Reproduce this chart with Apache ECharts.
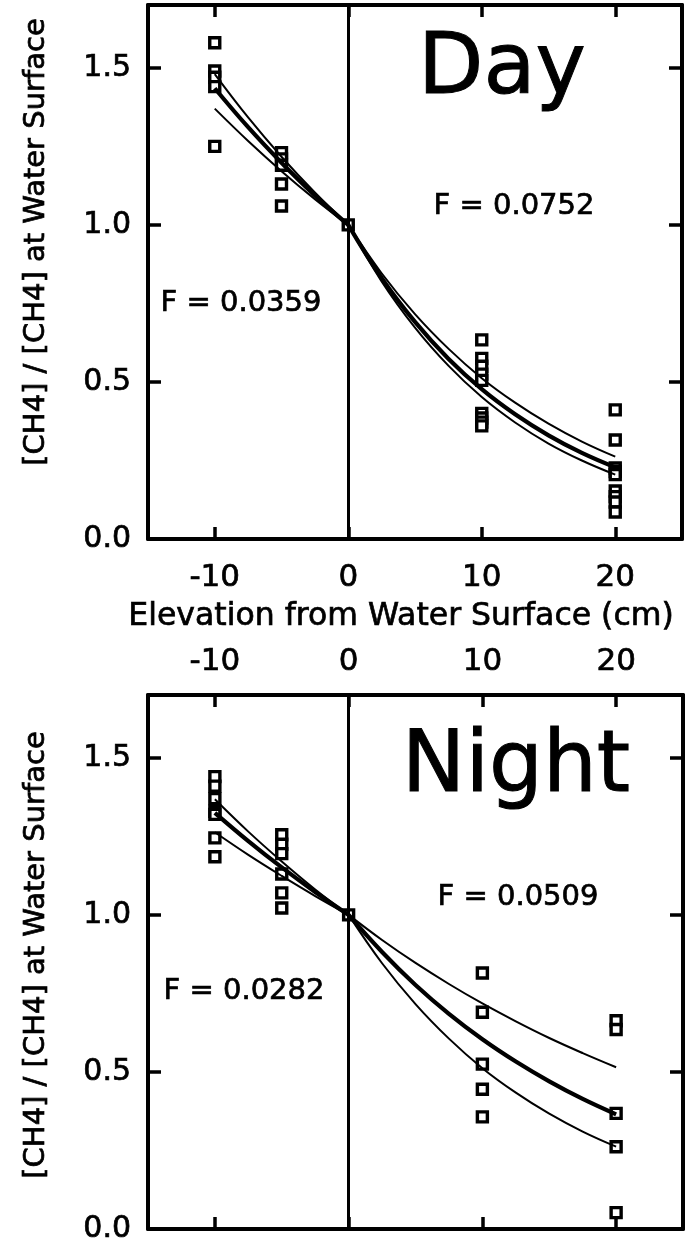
<!DOCTYPE html>
<html>
<head>
<meta charset="utf-8">
<script src="https://cdn.jsdelivr.net/npm/echarts@6/dist/echarts.min.js"></script>
<style>
  html, body { margin: 0; padding: 0; background: #fff; }
  #main { width: 691px; height: 1245px; }
</style>
</head>
<body>
<div id="main"></div>
<script>
// axis ticks
var xTicks = [-10, 0, 10, 20];
var yTicks = [0, 0.5, 1.0, 1.5];

// Day measurements, by elevation (cm)
var dayM10 = [1.58, 1.49, 1.47, 1.44, 1.25];
var dayM5 = [1.23, 1.21, 1.19, 1.13, 1.06];
var day0 = [1.0];
var day10 = [0.634, 0.575, 0.55, 0.525, 0.505, 0.40, 0.385, 0.372, 0.36];
var day20 = [0.411, 0.315, 0.226, 0.215, 0.205, 0.153, 0.135, 0.118, 0.086];

// Night measurements
var nightM10 = [1.44, 1.41, 1.37, 1.33, 1.32, 1.245, 1.185];
var nightM5 = [1.255, 1.225, 1.195, 1.13, 1.07, 1.022];
var night0 = [1.0];
var night10 = [0.815, 0.69, 0.525, 0.445, 0.357];
var night20 = [0.663, 0.635, 0.368, 0.262, 0.052];

// fitted curves (fit, upper, lower)
var fitXLeft = [-10, -7.5, -5, -2.5, 0];
var fitXRight = [0, 2.5, 5, 7.5, 10, 12.5, 15, 17.5, 20];

var dayFitL = [1.435, 1.311, 1.198, 1.094, 1.0];
var dayUpL  = [1.48, 1.342, 1.217, 1.103, 1.0];
var dayLoL  = [1.37, 1.267, 1.171, 1.082, 1.0];
var dayFitR = [1.0, 0.831, 0.691, 0.574, 0.477, 0.397, 0.330, 0.274, 0.228];
var dayUpR  = [1.0, 0.846, 0.716, 0.606, 0.512, 0.434, 0.367, 0.310, 0.262];
var dayLoR  = [1.0, 0.820, 0.673, 0.552, 0.452, 0.371, 0.304, 0.250, 0.205];

var nightFitL = [1.325, 1.235, 1.151, 1.073, 1.0];
var nightUpL  = [1.368, 1.265, 1.170, 1.081, 1.0];
var nightLoL  = [1.263, 1.191, 1.124, 1.060, 1.0];
var nightFitR = [1.0, 0.882, 0.777, 0.685, 0.604, 0.533, 0.470, 0.414, 0.365];
var nightUpR  = [1.0, 0.920, 0.847, 0.780, 0.718, 0.661, 0.608, 0.560, 0.515];
var nightLoR  = [1.0, 0.846, 0.716, 0.606, 0.512, 0.434, 0.367, 0.310, 0.262];

var FONT = 'DejaVu Sans';
var INK = 0.7; // slight stroke so text looks as heavy as the print

function pts(x, arr) {
  return arr.map(function (v) { return [x, v]; });
}
function zip(xs, ys) {
  return xs.map(function (x, i) { return [x, ys[i]]; });
}

function xAx(grid, pos, showLabel, margin) {
  return {
    type: 'value', gridIndex: grid, position: pos, min: -15, max: 25,
    axisLine: { show: true, onZero: false, lineStyle: { color: '#000', width: 4 } },
    axisTick: { show: true, inside: true, length: 12, customValues: xTicks,
      lineStyle: { color: '#000', width: 3.5 } },
    axisLabel: { show: showLabel, customValues: xTicks, margin: margin || 8,
      color: '#000', fontSize: 31, fontFamily: FONT,
      textBorderColor: '#000', textBorderWidth: INK },
    splitLine: { show: false }
  };
}
function yAx(grid, pos, showLabel, name, shift) {
  return {
    type: 'value', gridIndex: grid, position: pos, min: 0, max: 1.7,
    name: name || '', nameLocation: 'middle', nameGap: 97,
    nameTextStyle: { color: '#000', fontSize: 29, fontFamily: FONT,
      textBorderColor: '#000', textBorderWidth: INK,
      padding: [0, 0, 0, shift || 0] },
    axisLine: { show: true, onZero: false, lineStyle: { color: '#000', width: 4 } },
    axisTick: { show: true, inside: true, length: 13, customValues: yTicks,
      lineStyle: { color: '#000', width: 3.5 } },
    axisLabel: { show: showLabel, customValues: yTicks, margin: 17,
      color: '#000', fontSize: 30, fontFamily: FONT,
      textBorderColor: '#000', textBorderWidth: INK,
      formatter: function (v) { return v.toFixed(1); } },
    splitLine: { show: false }
  };
}

function panelSeries(idx, obs, curves) {
  var list = [{
    type: 'scatter', xAxisIndex: idx, yAxisIndex: idx,
    symbol: 'rect', symbolSize: 10,
    itemStyle: { color: '#fff', borderColor: '#000', borderWidth: 3.4, opacity: 1 },
    data: obs, z: 2
  }];
  curves.forEach(function (c) {
    list.push({
      type: 'line', xAxisIndex: idx, yAxisIndex: idx, smooth: 0.4,
      showSymbol: false, data: c.data, z: 3,
      lineStyle: { color: '#000', width: c.w }
    });
  });
  // vertical line at the water surface
  list.push({
    type: 'line', xAxisIndex: idx, yAxisIndex: idx, data: [], z: 4,
    markLine: { silent: true, symbol: 'none', label: { show: false },
      lineStyle: { color: '#000', width: 3, type: 'solid' },
      data: [{ xAxis: 0 }] }
  });
  return list;
}

var dayObs = [].concat(pts(-10, dayM10), pts(-5, dayM5), pts(0, day0), pts(10, day10), pts(20, day20));
var nightObs = [].concat(pts(-10, nightM10), pts(-5, nightM5), pts(0, night0), pts(10, night10), pts(20, night20));

var THIN = 2, THICK = 4.2;
var dayCurves = [
  { data: zip(fitXLeft, dayUpL), w: THIN }, { data: zip(fitXLeft, dayLoL), w: THIN },
  { data: zip(fitXLeft, dayFitL), w: THICK },
  { data: zip(fitXRight, dayUpR), w: THIN }, { data: zip(fitXRight, dayLoR), w: THIN },
  { data: zip(fitXRight, dayFitR), w: THICK }
];
var nightCurves = [
  { data: zip(fitXLeft, nightUpL), w: THIN }, { data: zip(fitXLeft, nightLoL), w: THIN },
  { data: zip(fitXLeft, nightFitL), w: THICK },
  { data: zip(fitXRight, nightUpR), w: THIN }, { data: zip(fitXRight, nightLoR), w: THIN },
  { data: zip(fitXRight, nightFitR), w: THICK }
];

var myChart = echarts.init(document.getElementById('main'));

var xName = xAx(0, 'bottom', true, 23);
xName.name = 'Elevation from Water Surface (cm)';
xName.nameLocation = 'middle';
xName.nameGap = 62;
xName.nameTextStyle = { color: '#000', fontSize: 31.5, fontFamily: FONT,
  textBorderColor: '#000', textBorderWidth: INK, padding: [0, 28, 0, 0] };

var yTitle = '[CH4] / [CH4] at Water Surface';

function note(text, x, y, size) {
  return { type: 'text', x: x, y: y, style: { text: text, fill: '#000',
    font: size + 'px "DejaVu Sans"', align: 'center', verticalAlign: 'middle',
    stroke: '#000', lineWidth: size > 50 ? 1 : INK } };
}

myChart.setOption({
  backgroundColor: '#fff',
  animation: false,
  grid: [
    { left: 148, top: 5, width: 534, height: 534 },
    { left: 148, top: 695, width: 535, height: 534 }
  ],
  xAxis: [
    xName,
    xAx(0, 'top', false),
    xAx(1, 'bottom', false),
    xAx(1, 'top', true, 18)
  ],
  yAxis: [
    yAx(0, 'left', true, yTitle, 60),
    yAx(0, 'right', false),
    yAx(1, 'left', true, yTitle, 14),
    yAx(1, 'right', false)
  ],
  graphic: [
    note('Day', 502, 71, 85),
    note('Night', 516, 769, 85),
    note('F = 0.0752', 514, 206, 29),
    note('F = 0.0359', 241, 303, 29),
    note('F = 0.0509', 518, 897, 29),
    note('F = 0.0282', 244, 991, 29)
  ],
  series: [].concat(panelSeries(0, dayObs, dayCurves), panelSeries(2, nightObs, nightCurves))
});
</script>
</body>
</html>
